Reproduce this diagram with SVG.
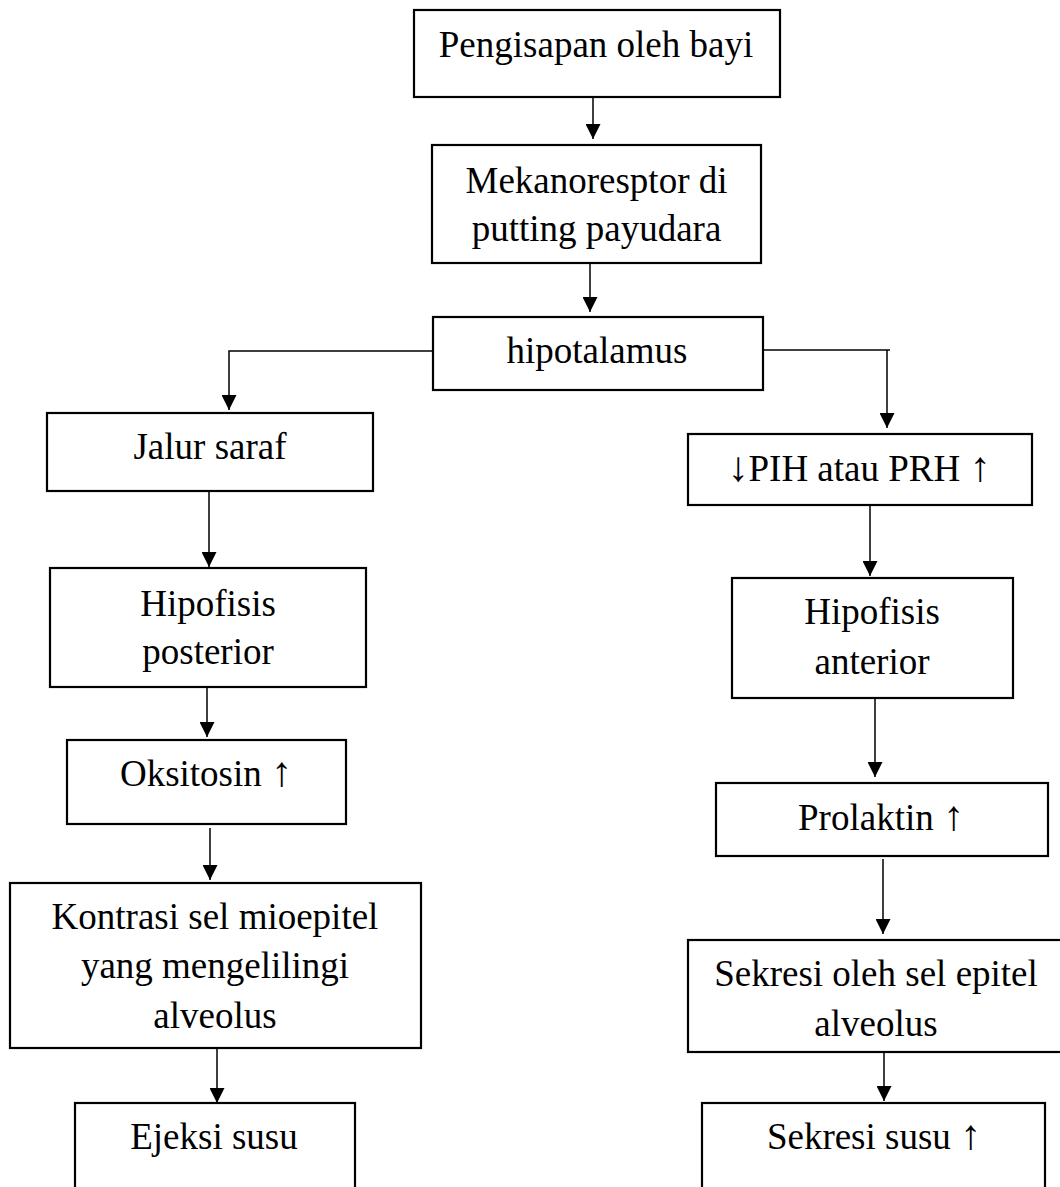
<svg xmlns="http://www.w3.org/2000/svg" width="1060" height="1187" viewBox="0 0 1060 1187">
<style>
.box{fill:#fff;stroke:#000;stroke-width:2.2}
.t{font-family:"Liberation Serif","Times New Roman",serif;font-size:37px;fill:#000;text-anchor:middle}
.ar{font-size:42px}
.c{fill:none;stroke:#000;stroke-width:1.5}
</style>
<defs>
<marker id="ah" markerUnits="userSpaceOnUse" markerWidth="15" markerHeight="15" refX="15" refY="7.5" orient="auto" viewBox="0 0 15 15">
<path d="M0,0 L15,7.5 L0,15 z" fill="#000"/>
</marker>
</defs>
<rect width="1060" height="1187" fill="#fff"/>
<g id="connectors">
<line class="c" x1="593" y1="97" x2="593" y2="139" marker-end="url(#ah)"/>
<line class="c" x1="590" y1="263" x2="590" y2="312" marker-end="url(#ah)"/>
<polyline class="c" points="433,351 229,351 229,410" marker-end="url(#ah)"/>
<polyline class="c" points="763,350 890,350"/>
<line class="c" x1="887" y1="350" x2="887" y2="428" marker-end="url(#ah)"/>
<line class="c" x1="209" y1="491" x2="209" y2="567" marker-end="url(#ah)"/>
<line class="c" x1="207" y1="687" x2="207" y2="737" marker-end="url(#ah)"/>
<line class="c" x1="210" y1="828" x2="210" y2="880" marker-end="url(#ah)"/>
<line class="c" x1="217" y1="1048" x2="217" y2="1103" marker-end="url(#ah)"/>
<line class="c" x1="870" y1="505" x2="870" y2="576" marker-end="url(#ah)"/>
<line class="c" x1="875" y1="698" x2="875" y2="777" marker-end="url(#ah)"/>
<line class="c" x1="883" y1="859" x2="883" y2="934" marker-end="url(#ah)"/>
<line class="c" x1="884" y1="1052" x2="884" y2="1101" marker-end="url(#ah)"/>
</g>
<g id="n1"><rect class="box" x="414" y="10" width="366" height="87"/><text class="t" x="596" y="57">Pengisapan oleh bayi</text></g>
<g id="n2"><rect class="box" x="432" y="145" width="329" height="118"/><text class="t" x="596.5" y="193">Mekanoresptor di</text><text class="t" x="596.5" y="241">putting payudara</text></g>
<g id="n3"><rect class="box" x="433" y="317" width="330" height="73"/><text class="t" x="597" y="363">hipotalamus</text></g>
<g id="n4"><rect class="box" x="47" y="413" width="326" height="78"/><text class="t" x="210" y="459">Jalur saraf</text></g>
<g id="n5"><rect class="box" x="50" y="568" width="316" height="119"/><text class="t" x="208" y="616">Hipofisis</text><text class="t" x="208" y="664">posterior</text></g>
<g id="n6"><rect class="box" x="67" y="740" width="279" height="84"/><text class="t" x="206" y="786">Oksitosin <tspan class="ar">↑</tspan></text></g>
<g id="n7"><rect class="box" x="10" y="883" width="411" height="165"/><text class="t" x="215" y="929">Kontrasi sel mioepitel</text><text class="t" x="215" y="978">yang mengelilingi</text><text class="t" x="215" y="1028">alveolus</text></g>
<g id="n8"><rect class="box" x="75" y="1103" width="280" height="100"/><text class="t" x="214" y="1149">Ejeksi susu</text></g>
<g id="n9"><rect class="box" x="688" y="434" width="344" height="71"/><text class="t" x="859" y="481"><tspan class="ar">↓</tspan>PIH atau PRH <tspan class="ar">↑</tspan></text></g>
<g id="n10"><rect class="box" x="732" y="578" width="281" height="120"/><text class="t" x="872" y="624">Hipofisis</text><text class="t" x="872" y="674">anterior</text></g>
<g id="n11"><rect class="box" x="716" y="783" width="332" height="73"/><text class="t" x="881" y="830">Prolaktin <tspan class="ar">↑</tspan></text></g>
<g id="n12"><rect class="box" x="688" y="940" width="380" height="112"/><text class="t" x="876" y="986">Sekresi oleh sel epitel</text><text class="t" x="876" y="1036">alveolus</text></g>
<g id="n13"><rect class="box" x="702" y="1103" width="343" height="100"/><text class="t" x="874" y="1149">Sekresi susu <tspan class="ar">↑</tspan></text></g>
</svg>
